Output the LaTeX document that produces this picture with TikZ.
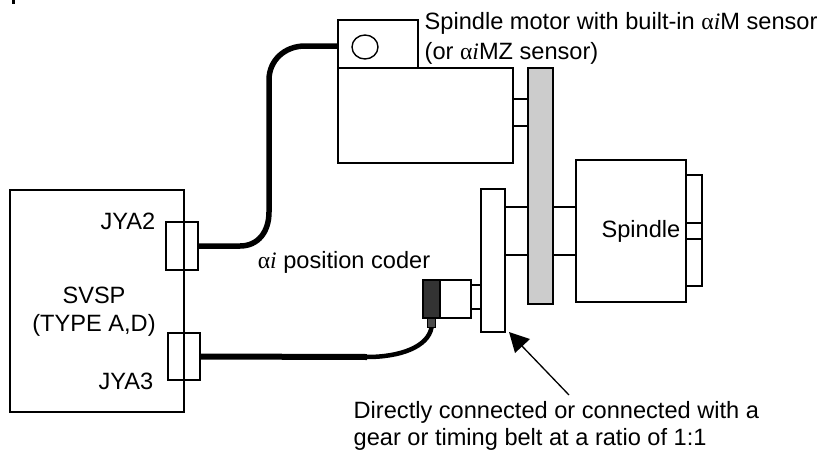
\documentclass[tikz,border=0pt]{standalone}
\usetikzlibrary{shapes.geometric}
\usepackage{fontspec}
\setmainfont{Liberation Sans}
\newfontfamily\greekserif{Liberation Serif}
\newcommand{\alphai}{{\greekserif α\itshape i}}
\begin{document}
\begin{tikzpicture}[
    x=1pt, y=-1pt,
    line width=1.4pt,
    % Define the style for the outlined parts
    part/.style={draw=black, fill=white, rectangle, inner sep=0pt, outer sep=0pt},
    % Define the style for the cables
    cable/.style={line width=5.5pt},
    % Font settings
    font=\fontsize{23.6}{28}\selectfont
]
    \useasboundingbox (0,0) rectangle (823,453);

    % --- Cut-off mark at the top edge ---
    \fill (11.5,0) rectangle (15,4);

    % --- Spindle motor ---
    \node[part, minimum width=175pt, minimum height=95pt] (motor) at (425.5,115.5) {};
    \node[part, minimum width=80pt, minimum height=48pt] (sensor) at (378,44) {};
    \node[draw, ellipse, minimum width=26pt, minimum height=24pt, inner sep=0pt] (sensorhole) at (365,47) {};
    \node[part, minimum width=15pt, minimum height=27pt] (motorshaft) at (520.5,112.5) {};
    \coordinate (sensorport) at (338,46);

    % --- Spindle ---
    \node[part, minimum width=23pt, minimum height=48pt] (leftshaft) at (516.5,231) {};
    \node[part, minimum width=23pt, minimum height=48pt] (rightshaft) at (564.5,231) {};
    \node[part, minimum width=110pt, minimum height=142pt] (spindle) at (631,231) {};
    \node[part, minimum width=16pt, minimum height=111pt] (endcap) at (694,230.5) {};
    \node[part, minimum width=16pt, minimum height=16pt] (endstub) at (694,231) {};
    \node[left, inner sep=0pt] (spindlelabel) at (681,231) {Spindle};

    % Belt goes over the shafts
    \node[part, fill=black!20, minimum width=25pt, minimum height=236pt] (belt) at (540.5,186) {};

    % --- Position coder ---
    \node[part, minimum width=24pt, minimum height=143pt] (pulley) at (493,260.5) {};
    \node[part, minimum width=10pt, minimum height=24pt] (codershaft) at (476,297) {};
    \node[part, minimum width=31pt, minimum height=38pt] (coder) at (455.5,299) {};
    \node[part, fill=black!80, minimum width=17pt, minimum height=38pt] (coderhead) at (431.5,299) {};
    \node[part, fill=black!70, minimum width=8pt, minimum height=9pt] (coderplug) at (431.5,323) {};
    \node (coderlabel) at (344,262) {\alphai{} position coder};

    % --- SVSP unit ---
    \node[part, minimum width=174pt, minimum height=222pt] (svsp) at (97,301) {};
    \node[draw, inner sep=0pt, outer sep=0pt, minimum width=32pt, minimum height=48pt] (jyatwo) at (182,246) {};
    \node[draw, inner sep=0pt, outer sep=0pt, minimum width=32pt, minimum height=47pt] (jyathree) at (184,356.5) {};
    \node (jyatwolabel) at (128,221) {JYA2};
    \node (jyathreelabel) at (126,381) {JYA3};
    \node[align=center] (svsplabel) at (94,312) {SVSP\\(TYPE A,D)};

    % --- Cables ---
    \draw[cable] (jyatwo.east) -- (240,246)
        .. controls (258,246) and (269,232) .. (269,212)
        -- (269,80) .. controls (269,60) and (285,46) .. (305,46) -- (sensorport);
    \draw[cable, line width=6pt] (jyathree.east) -- (367,357);
    \draw[cable, line width=4.5pt] (367,357)
        .. controls (400,357) and (428,347) .. (coderplug.south);

    % --- Labels ---
    \node[right, align=left, inner sep=0pt, font=\fontsize{23.6}{30}\selectfont] (motorlabel) at (424,38)
        {Spindle motor with built-in \alphai{}M sensor\\(or \alphai{}MZ sensor)};
    \node[right, align=left, inner sep=0pt, font=\fontsize{23.6}{27.5}\selectfont] (directlabel) at (353,426)
        {Directly connected or connected with a\\gear or timing belt at a ratio of 1:1};

    % Arrow up to the pulley
    \coordinate (arrowtail) at (569,395);
    \coordinate (arrowtip) at (509,332);
    \fill (arrowtip) -- (530,339) -- (515,353) -- cycle;
    \draw[line width=1.3pt] (arrowtail) -- (521,345);
\end{tikzpicture}
\end{document}
